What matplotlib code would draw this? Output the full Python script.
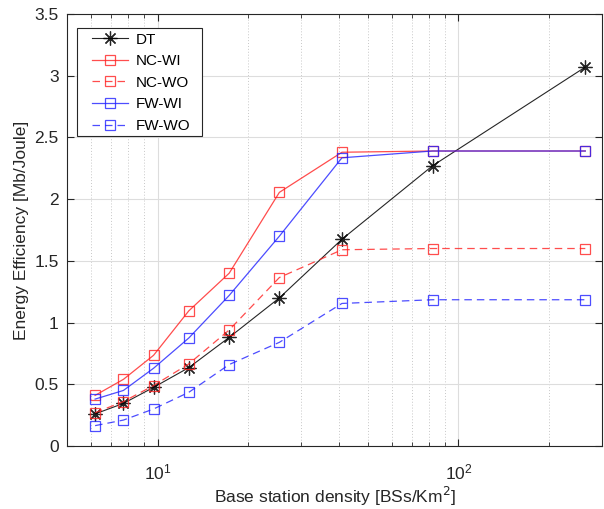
import matplotlib
matplotlib.use("Agg")
import matplotlib.pyplot as plt
from matplotlib.ticker import LogLocator, NullFormatter, FixedLocator
from matplotlib.patches import Rectangle

plt.rcParams['font.family'] = ['Liberation Sans', 'DejaVu Sans']

density = [6.2, 7.7, 9.7, 12.7, 17.3, 25.4, 41, 82, 264]
dt = [0.26, 0.345, 0.475, 0.635, 0.88, 1.20, 1.675, 2.27, 3.07]
nc_wi = [0.41, 0.54, 0.735, 1.095, 1.40, 2.055, 2.38, 2.39, 2.39]
nc_wo = [0.27, 0.36, 0.49, 0.665, 0.94, 1.365, 1.59, 1.60, 1.60]
fw_wi = [0.38, 0.45, 0.63, 0.875, 1.22, 1.70, 2.335, 2.39, 2.39]
fw_wo = [0.165, 0.21, 0.30, 0.435, 0.66, 0.84, 1.155, 1.185, 1.185]

series = [
    ("DT", dt, "#000000", "-", "*"),
    ("NC-WI", nc_wi, "#ff2020", "-", "s"),
    ("NC-WO", nc_wo, "#ff2020", (0, (6, 4)), "s"),
    ("FW-WI", fw_wi, "#2020ff", "-", "s"),
    ("FW-WO", fw_wo, "#2020ff", (0, (6, 4)), "s"),
]

fig = plt.figure(figsize=(6.04, 5.09), dpi=100)
ax = fig.add_axes([67/604, 1-446/509, (602-67)/604, (446-14)/509])

for name, vals, col, ls, mk in series:
    if mk == "*":
        ax.plot(density, vals, color=col, linestyle=ls, linewidth=0.8, marker=(8, 2, 0),
                markersize=10, markeredgecolor=col, markeredgewidth=0.9, label=name, alpha=0.85)
    else:
        ax.plot(density, vals, color=col, linestyle=ls, linewidth=0.9, marker=mk,
                markersize=7, markerfacecolor='none', markeredgewidth=0.9, label=name, alpha=0.8)

ax.set_xscale('log')
ax.set_xlim(5, 300)
ax.set_ylim(0, 3.5)
ax.set_yticks([0, 0.5, 1, 1.5, 2, 2.5, 3, 3.5])
ax.set_yticklabels(['0', '0.5', '1', '1.5', '2', '2.5', '3', '3.5'])
ax.xaxis.set_major_locator(FixedLocator([10, 100]))
ax.xaxis.set_minor_locator(LogLocator(base=10, subs=range(2, 10)))
ax.xaxis.set_minor_formatter(NullFormatter())

ax.grid(True, which='major', color='#dddddd', linewidth=0.8, linestyle='-')
ax.grid(True, which='minor', axis='x', color='#c8c8c8', linewidth=0.7, linestyle=(0, (1, 2)))
ax.set_axisbelow(True)

ax.tick_params(which='both', direction='in', top=True, right=True, labelsize=12.5, colors='#262626')
ax.tick_params(which='major', length=5)
ax.tick_params(which='minor', length=3)
ax.tick_params(axis='x', which='major', pad=12)
ax.tick_params(axis='y', which='major', pad=6)
for sp in ax.spines.values():
    sp.set_color('#262626')
    sp.set_linewidth(0.8)

ax.set_xlabel('Base station density [BSs/Km$^2$]', fontsize=12.5, color='#262626', va='center')
ax.xaxis.set_label_coords(0.5, (446-496)/432)
ax.set_ylabel('Energy Efficiency [Mb/Joule]', fontsize=12.5, color='#262626', labelpad=4)

# legend frame drawn separately to mimic MATLAB's roomy box
ax.add_patch(Rectangle(((77-67)/535, (446-136)/432), (202-77)/535, (136-28)/432,
                       transform=ax.transAxes, facecolor='white', edgecolor='#262626',
                       linewidth=0.8, zorder=4))
leg = ax.legend(loc='upper left', bbox_to_anchor=((92-67)/535, (446-32.5)/432), fontsize=11,
                frameon=False, handlelength=2.36, borderpad=0, borderaxespad=0,
                labelspacing=0.5, handletextpad=0.5)
leg.set_zorder(5)

fig.savefig('out.png', dpi=100)
